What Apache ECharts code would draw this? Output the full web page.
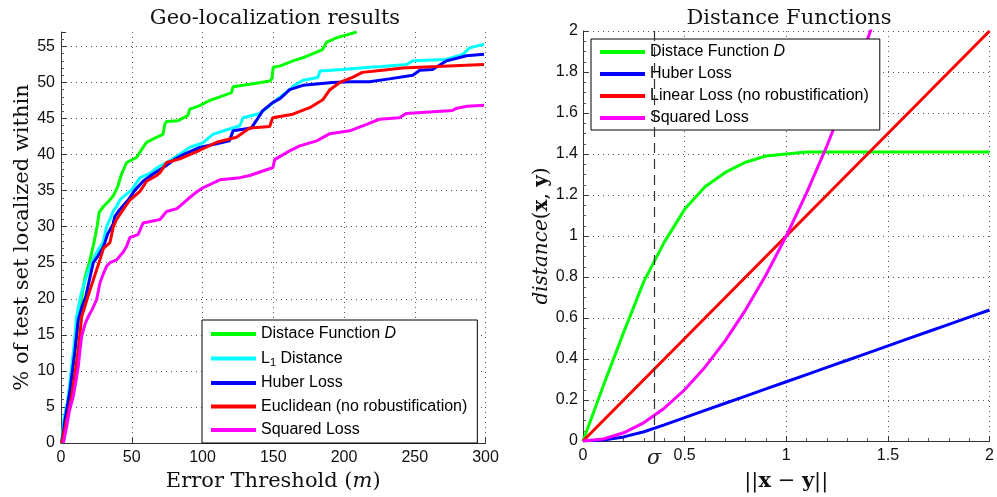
<!DOCTYPE html>
<html><head><meta charset="utf-8">
<script src="https://cdn.jsdelivr.net/npm/echarts@6/dist/echarts.min.js"></script>
<style>html,body{margin:0;padding:0;background:#fff}#c{width:997px;height:497px}</style>
</head><body><div id="c"></div>
<script>
// ---------- Left chart: Geo-localization results ([error threshold m, % localized]) ----------
const geoD = [[0.5,0],[2.5,3.5],[4,5],[6.5,7.5],[8.2,10],[10,13],[11.5,16],[14.5,20],[17,23],[20,25],[23,27.5],[25.5,30],[27,32],[30,32.8],[34,33.6],[37,34.3],[40,35.5],[42.8,37.3],[46.4,38.9],[53.4,39.6],[58,41],[60.5,41.7],[67.5,42.4],[72,42.8],[73.4,44.2],[74.6,44.6],[82.6,44.7],[89.6,45.4],[91,46.3],[98,46.8],[105,47.5],[112.3,48],[120.5,48.6],[121.6,49.4],[138,49.9],[147.5,50.2],[149,50.5],[150,52.1],[155,52.3],[164,53],[172,53.5],[180.7,54.2],[185,54.6],[187.7,55.6],[194.8,56.2],[200,56.5],[209,57]];
const geoL1 = [[0.5,0],[2,3.2],[4.5,5.5],[7.5,10.6],[9.5,14],[11,17.5],[14,20.5],[17,22.5],[20.5,24.5],[24,26],[27,27],[29.7,27.8],[32.2,30],[35,31.2],[37,32.2],[39.3,32.8],[41.6,33.7],[45,34.3],[50,35.1],[53,36],[56,36.8],[62.8,37.4],[68,38.2],[74.6,38.9],[82,39.8],[91,41],[100,41.6],[107.3,42.8],[115,43.3],[126.4,44],[128.7,45.1],[140.5,45.7],[147.5,46.8],[153,47.7],[159,48.6],[165,49.6],[171,50.3],[181.6,50.7],[183,51.6],[199,51.8],[218,52.1],[227,52.2],[244,52.5],[248.6,53],[272,53.2],[284,53.9],[288.7,54.8],[299,55.3]];
const geoHuber = [[0.5,0],[2.8,3.2],[6.4,7.4],[9.9,12.9],[12.2,17.1],[15,19],[17.5,20.3],[20.5,23],[22.8,25],[26.3,26],[30,27.2],[33,29],[36.7,30.3],[38,31.4],[41.6,32.4],[47.5,33.7],[52,35],[58,36.3],[65,37.3],[74.6,38.5],[80,39.3],[86.4,40],[98,41],[110,41.5],[119,41.9],[121.6,43.3],[134.6,43.7],[138,44.7],[142.6,46.1],[149.6,47.2],[155,47.8],[161.6,49],[171,49.6],[192,50],[204,50.1],[218,50.1],[232,50.5],[248.6,51],[253.6,51.7],[262.6,51.8],[272.5,53],[286.6,53.7],[299,53.9]];
const geoEuclid = [[0.5,0],[4,3.2],[7.5,6.4],[9.9,9.7],[12.2,12.9],[14.6,17.5],[19,20.3],[22.8,22.6],[27.5,25.4],[30,27],[34.6,27.8],[37,30],[39.3,31],[44,32.4],[48.7,33.7],[55.8,34.9],[60.5,36.3],[67.5,37.1],[70,37.5],[74.6,38.9],[84,39.4],[98,40.6],[110,41.7],[124,42.4],[133.4,43.7],[147.5,43.9],[149.6,45.1],[163.8,45.6],[175.8,46.5],[185,47.6],[190,49],[197,50],[206,50.7],[213,51.4],[227,51.7],[241.4,52],[265.4,52.2],[299,52.5]];
const geoSquared = [[1.7,0],[4,2.3],[6,4.5],[8.6,6.4],[10.5,8.5],[12.2,10.6],[13.5,13],[14.6,14.8],[17,16.5],[19.2,17.5],[22,18.5],[25.2,19.9],[27.5,22.2],[30,23.5],[32.2,24.5],[34.6,25],[39.3,25.4],[44,26.5],[46.4,27.3],[48.7,28.5],[54.4,28.9],[58,30.5],[70,31],[74.6,32.1],[81.9,32.5],[88.9,33.7],[95,34.7],[100.3,35.4],[112.3,36.5],[126.4,36.8],[133.4,37.1],[145.2,37.9],[149.8,38.2],[151,39.3],[159.5,40.3],[168.7,41.2],[180.7,41.9],[190,42.9],[204,43.3],[216,44.2],[225,44.9],[239,45.1],[244,45.7],[276.7,46.1],[279,46.4],[287,46.7],[299,46.85]];
const geoNames = ['Distace Function D','L1 Distance','Huber Loss','Euclidean (no robustification)','Squared Loss'];

// ---------- Right chart: Distance Functions ----------
const distX = [0,0.1,0.2,0.3,0.4,0.5,0.6,0.7,0.8,0.9,1.0,1.1,1.2,1.3,1.4,1.5,1.6,1.7,1.8,1.9,2.0];
const distD = [0,0.27,0.53,0.78,0.97,1.13,1.24,1.31,1.36,1.39,1.40,1.41,1.41,1.41,1.41,1.41,1.41,1.41,1.41,1.41,1.41];
const distHuber = [0,0.005,0.02,0.045,0.079,0.114,0.149,0.184,0.219,0.254,0.289,0.324,0.359,0.394,0.429,0.464,0.499,0.534,0.569,0.604,0.639];
const distLinear = [0,0.1,0.2,0.3,0.4,0.5,0.6,0.7,0.8,0.9,1.0,1.1,1.2,1.3,1.4,1.5,1.6,1.7,1.8,1.9,2.0];
const distSquared = [0,0.01,0.04,0.09,0.16,0.25,0.36,0.49,0.64,0.81,1.0,1.21,1.44,1.69,1.96,2.25];
const distNames = ['Distace Function D','Huber Loss','Linear Loss (no robustification)','Squared Loss'];
const sigmaMark = 0.35;

const C = {green:'#00ff00', cyan:'#00ffff', blue:'#0000ff', red:'#ff0000', magenta:'#ff00ff'};
const serif = 'DejaVu Serif';
const sans = 'Liberation Sans';
const zip = (xs, ys) => ys.map((v, i) => [xs[i], v]);

const gridLine = {show:true, lineStyle:{color:'#555', type:[1,4], width:1}};
const axLine = {show:true, onZero:false, lineStyle:{color:'#333', width:1}};
const tick = {show:true, inside:true, length:5, lineStyle:{color:'#333'}};
const lab = (m) => ({color:'#111', fontFamily:sans, fontSize:16, margin:m});

function line(name, data, color, xi, extra) {
  return Object.assign({
    name, type:'line', data, xAxisIndex:xi, yAxisIndex:xi,
    showSymbol:false, symbol:'none', animation:false, clip:true,
    lineStyle:{color, width:3}, itemStyle:{color}
  }, extra || {});
}

const legendFmt = (n) => n === 'Distace Function D' ? 'Distace Function {i|D}'
  : (n === 'L1 Distance' ? 'L{s|1} Distance' : n);
const legendRich = {
  i:{fontStyle:'italic', fontFamily:sans, fontSize:16, color:'#000', lineHeight:18},
  s:{fontFamily:sans, fontSize:11, color:'#000', lineHeight:11, padding:[9,0,0,0]}
};

const chart = echarts.init(document.getElementById('c'), null, {renderer:'canvas'});
chart.setOption({
  animation:false,
  backgroundColor:'#fff',
  title:[
    {text:'Geo-localization results', left:275, top:19, padding:0, textAlign:'center', textVerticalAlign:'middle',
     textStyle:{fontFamily:serif, fontSize:21, fontWeight:'normal', color:'#111'}},
    {text:'Distance Functions', left:789, top:18.5, padding:0, textAlign:'center', textVerticalAlign:'middle',
     textStyle:{fontFamily:serif, fontSize:21, fontWeight:'normal', color:'#111'}}
  ],
  grid:[
    {left:61, right:511.5, top:32, bottom:54},
    {left:583, right:1, top:31, bottom:54}
  ],
  xAxis:[
    {type:'value', gridIndex:0, min:0, max:300, interval:50,
     name:'Error Threshold ({m|m})', nameLocation:'middle', nameGap:27,
     nameTextStyle:{fontFamily:serif, fontSize:21, color:'#111',
       rich:{m:{fontFamily:serif, fontStyle:'italic', fontSize:21, color:'#111'}}},
     axisLine:axLine, axisTick:tick, axisLabel:lab(7), splitLine:gridLine},
    {type:'value', gridIndex:1, min:0, max:2, interval:0.5,
     name:'||{b|x} − {b|y}||', nameLocation:'middle', nameGap:30,
     nameTextStyle:{fontFamily:serif, fontSize:21, color:'#111',
       rich:{b:{fontFamily:serif, fontWeight:'bold', fontSize:21, color:'#111'}}},
     axisLine:axLine, axisTick:tick, axisLabel:lab(7),
     minorTick:{show:true, splitNumber:5, length:3, lineStyle:{color:'#555'}},
     splitLine:gridLine}
  ],
  yAxis:[
    {type:'value', gridIndex:0, min:0, max:57, interval:5,
     name:'% of test set localized within', nameLocation:'middle', nameGap:26, nameRotate:90,
     nameTextStyle:{fontFamily:serif, fontSize:21, color:'#111'},
     axisLine:axLine, axisTick:tick,
     axisLabel:Object.assign(lab(6), {showMaxLabel:false}),
     minorTick:{show:true, splitNumber:5, length:3, lineStyle:{color:'#555'}},
     splitLine:Object.assign({}, gridLine, {showMaxLine:false})},
    {type:'value', gridIndex:1, min:0, max:2, interval:0.2,
     name:'{i|distance}({b|x}, {b|y})', nameLocation:'middle', nameGap:30, nameRotate:90,
     nameTextStyle:{fontFamily:serif, fontSize:20, color:'#111',
       rich:{i:{fontFamily:serif, fontStyle:'italic', fontSize:20, color:'#111'},
             b:{fontFamily:serif, fontWeight:'bold', fontSize:20, color:'#111'}}},
     axisLine:axLine, axisTick:tick, axisLabel:lab(5),
     minorTick:{show:true, splitNumber:4, length:3, lineStyle:{color:'#555'}},
     splitLine:gridLine}
  ],
  legend:[
    {data:geoNames, orient:'vertical', left:202, top:320, selectedMode:false,
     backgroundColor:'#fff', borderColor:'#000', borderWidth:1, borderRadius:0,
     padding:[5,10,4,9], itemGap:5.5, itemWidth:45, itemHeight:4, icon:'rect',
     formatter:legendFmt,
     textStyle:{fontFamily:sans, fontSize:16, color:'#000', lineHeight:18, rich:legendRich}},
    {data:distNames, orient:'vertical', left:591, top:39, selectedMode:false,
     backgroundColor:'#fff', borderColor:'#000', borderWidth:1, borderRadius:0,
     padding:[4,11,3,9], itemGap:4, itemWidth:45, itemHeight:4, icon:'rect',
     formatter:legendFmt,
     textStyle:{fontFamily:sans, fontSize:16, color:'#000', lineHeight:18, rich:legendRich}}
  ],
  series:[
    line('Distace Function D', geoD, C.green, 0),
    line('L1 Distance', geoL1, C.cyan, 0),
    line('Huber Loss', geoHuber, C.blue, 0),
    line('Euclidean (no robustification)', geoEuclid, C.red, 0),
    line('Squared Loss', geoSquared, C.magenta, 0),
    line('Distace Function D', zip(distX, distD), C.green, 1, {
      markLine:{silent:true, symbol:['none','none'], animation:false,
        lineStyle:{color:'#333', type:[10,6], width:1.2},
        label:{show:true, position:'start', formatter:'σ', distance:7,
               fontFamily:serif, fontStyle:'italic', fontSize:21, color:'#222'},
        data:[{xAxis:sigmaMark}]}
    }),
    line('Huber Loss', zip(distX, distHuber), C.blue, 1),
    line('Linear Loss (no robustification)', zip(distX, distLinear), C.red, 1),
    line('Squared Loss', zip(distX, distSquared), C.magenta, 1)
  ]
});
</script></body></html>
